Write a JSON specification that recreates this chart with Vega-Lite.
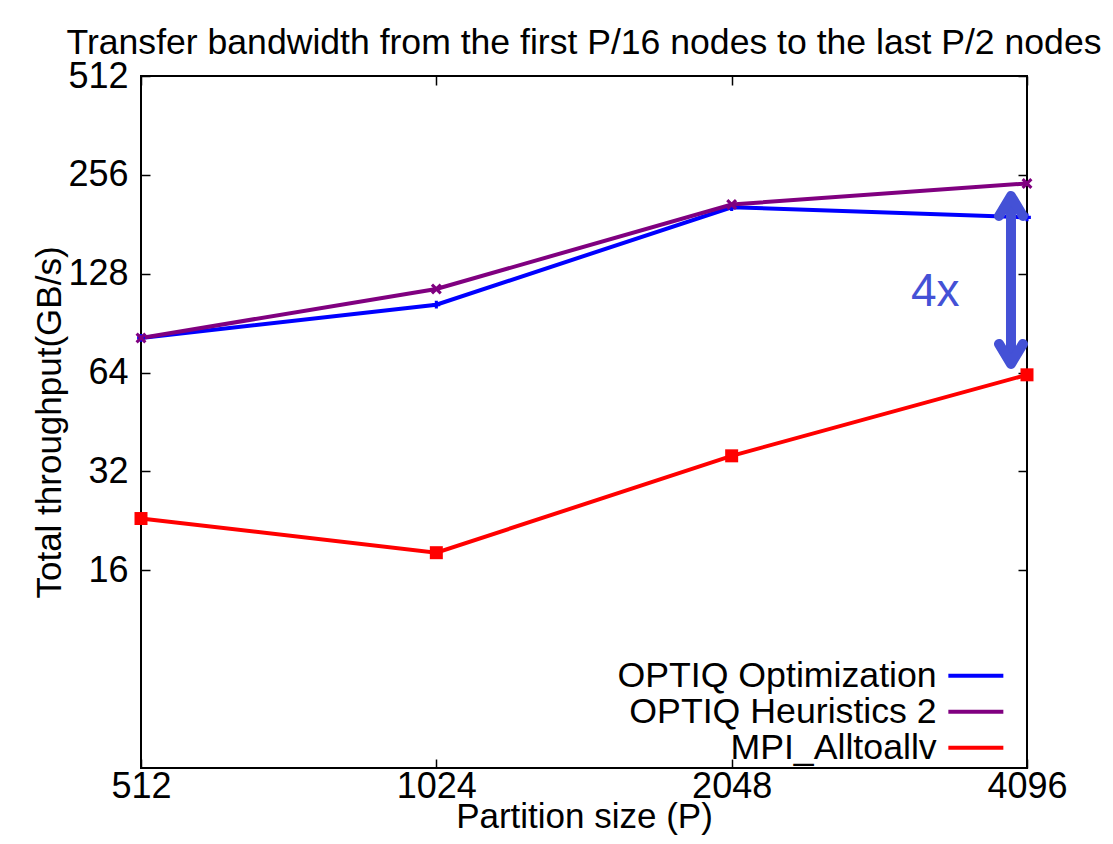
{
  "$schema": "https://vega.github.io/schema/vega-lite/v6.json",
  "width": 886,
  "height": 692,
  "autosize": {"type": "none"},
  "padding": {"left": 141, "top": 76, "right": 86, "bottom": 76},
  "background": "white",
  "title": {
    "text": "Transfer bandwidth from the first P/16 nodes to the last P/2 nodes",
    "font": "Liberation Sans",
    "fontSize": 35.6,
    "fontWeight": "normal",
    "color": "black",
    "anchor": "middle",
    "offset": -4
  },
  "config": {
    "view": {"stroke": "black", "strokeWidth": 2},
    "axis": {
      "grid": false,
      "domain": false,
      "ticks": true,
      "tickColor": "black",
      "tickWidth": 1.5,
      "tickSize": -9,
      "labelFont": "Liberation Sans",
      "labelFontSize": 36,
      "labelColor": "black",
      "labelFlush": false,
      "labelOverlap": false,
      "titleFont": "Liberation Sans",
      "titleFontSize": 35,
      "titleFontWeight": "normal",
      "titleColor": "black"
    },
    "legend": {
      "labelFont": "Liberation Sans",
      "labelFontSize": 35.7,
      "labelColor": "black",
      "labelLimit": 0
    }
  },
  "datasets": {
    "series": [
      {"P": 512, "series": "OPTIQ Optimization", "bw": 81.6},
      {"P": 1024, "series": "OPTIQ Optimization", "bw": 103},
      {"P": 2048, "series": "OPTIQ Optimization", "bw": 204},
      {"P": 4096, "series": "OPTIQ Optimization", "bw": 190},
      {"P": 512, "series": "OPTIQ Heuristics 2", "bw": 81.6},
      {"P": 1024, "series": "OPTIQ Heuristics 2", "bw": 115},
      {"P": 2048, "series": "OPTIQ Heuristics 2", "bw": 208},
      {"P": 4096, "series": "OPTIQ Heuristics 2", "bw": 241},
      {"P": 512, "series": "MPI_Alltoallv", "bw": 23.0},
      {"P": 1024, "series": "MPI_Alltoallv", "bw": 18.1},
      {"P": 2048, "series": "MPI_Alltoallv", "bw": 35.7},
      {"P": 4096, "series": "MPI_Alltoallv", "bw": 63.0}
    ],
    "arrow": [
      {"P": 3945, "top": 220.8, "bottom": 68.0}
    ],
    "label": [
      {"P": 3302, "bw": 112.7, "text": "4x"}
    ]
  },
  "layer": [
    {
      "data": {"name": "series"},
      "mark": {"type": "line", "strokeWidth": 4, "clip": false},
      "encoding": {
        "x": {
          "field": "P", "type": "quantitative",
          "scale": {"type": "log", "base": 2, "domain": [512, 4096], "nice": false},
          "axis": {"orient": "bottom", "values": [512, 1024, 2048, 4096], "format": "d", "title": "Partition size (P)", "labelPadding": 10, "titlePadding": -5}
        },
        "y": {
          "field": "bw", "type": "quantitative",
          "scale": {"type": "log", "base": 2, "domain": [4, 512], "nice": false},
          "axis": {"orient": "left", "values": [16, 32, 64, 128, 256, 512], "format": "d", "title": "Total throughput(GB/s)", "labelPadding": 22, "titlePadding": 0}
        },
        "color": {
          "field": "series", "type": "nominal",
          "scale": {
            "domain": ["OPTIQ Optimization", "OPTIQ Heuristics 2", "MPI_Alltoallv"],
            "range": ["#0000ff", "#800080", "#ff0000"]
          },
          "legend": {
            "title": null,
            "orient": "none",
            "legendX": 817,
            "legendY": 582,
            "padding": 0,
            "symbolType": "M-2.5,0H2.5",
            "symbolSize": 484,
            "symbolStrokeWidth": 4,
            "labelAlign": "right",
            "labelOffset": -57,
            "rowPadding": -6.8
          }
        },
        "order": {"field": "series", "sort": "descending"}
      }
    },
    {
      "data": {"name": "series"},
      "transform": [{"filter": "datum.series === 'OPTIQ Optimization'"}],
      "mark": {"type": "point", "shape": "cross", "size": 60, "filled": true, "color": "#0000ff", "opacity": 1, "clip": false},
      "encoding": {
        "x": {"field": "P", "type": "quantitative", "axis": null},
        "y": {"field": "bw", "type": "quantitative", "axis": null}
      }
    },
    {
      "data": {"name": "series"},
      "transform": [{"filter": "datum.series === 'OPTIQ Heuristics 2'"}],
      "mark": {"type": "point", "shape": "M-1,-0.6L-0.6,-1L0,-0.4L0.6,-1L1,-0.6L0.4,0L1,0.6L0.6,1L0,0.4L-0.6,1L-1,0.6L-0.4,0Z", "size": 120, "filled": true, "color": "#800080", "opacity": 1, "clip": false},
      "encoding": {
        "x": {"field": "P", "type": "quantitative", "axis": null},
        "y": {"field": "bw", "type": "quantitative", "axis": null}
      }
    },
    {
      "data": {"name": "series"},
      "transform": [{"filter": "datum.series === 'MPI_Alltoallv'"}],
      "mark": {"type": "point", "shape": "square", "size": 169, "filled": true, "color": "#ff0000", "opacity": 1, "clip": false},
      "encoding": {
        "x": {"field": "P", "type": "quantitative", "axis": null},
        "y": {"field": "bw", "type": "quantitative", "axis": null}
      }
    },
    {
      "data": {"name": "arrow"},
      "mark": {"type": "rule", "color": "#4451d6", "strokeWidth": 10, "strokeCap": "butt"},
      "encoding": {
        "x": {"field": "P", "type": "quantitative", "axis": null},
        "y": {"field": "top", "type": "quantitative", "axis": null},
        "y2": {"field": "bottom"}
      }
    },
    {
      "data": {"name": "arrow"},
      "mark": {"type": "point", "shape": "M-0.6,1L0,0L0.6,1", "size": 1600, "filled": false, "color": "#4451d6", "strokeWidth": 10, "strokeCap": "round", "strokeJoin": "round", "opacity": 1},
      "encoding": {
        "x": {"field": "P", "type": "quantitative", "axis": null},
        "y": {"field": "top", "type": "quantitative", "axis": null}
      }
    },
    {
      "data": {"name": "arrow"},
      "mark": {"type": "point", "shape": "M-0.6,-1L0,0L0.6,-1", "size": 1600, "filled": false, "color": "#4451d6", "strokeWidth": 10, "strokeCap": "round", "strokeJoin": "round", "opacity": 1},
      "encoding": {
        "x": {"field": "P", "type": "quantitative", "axis": null},
        "y": {"field": "bottom", "type": "quantitative", "axis": null}
      }
    },
    {
      "data": {"name": "label"},
      "mark": {"type": "text", "font": "Liberation Sans", "fontSize": 46, "color": "#4451d6", "align": "center", "baseline": "middle"},
      "encoding": {
        "x": {"field": "P", "type": "quantitative", "axis": null},
        "y": {"field": "bw", "type": "quantitative", "axis": null},
        "text": {"field": "text"}
      }
    },
    {
      "data": {"name": "series"},
      "mark": {"type": "point", "opacity": 0},
      "encoding": {
        "x": {"field": "P", "type": "quantitative", "axis": {"orient": "top", "values": [512, 1024, 2048, 4096], "labels": false, "title": null}},
        "y": {"field": "bw", "type": "quantitative", "axis": {"orient": "right", "values": [16, 32, 64, 128, 256, 512], "labels": false, "title": null}}
      }
    }
  ],
  "resolve": {"axis": {"x": "independent", "y": "independent"}}
}
